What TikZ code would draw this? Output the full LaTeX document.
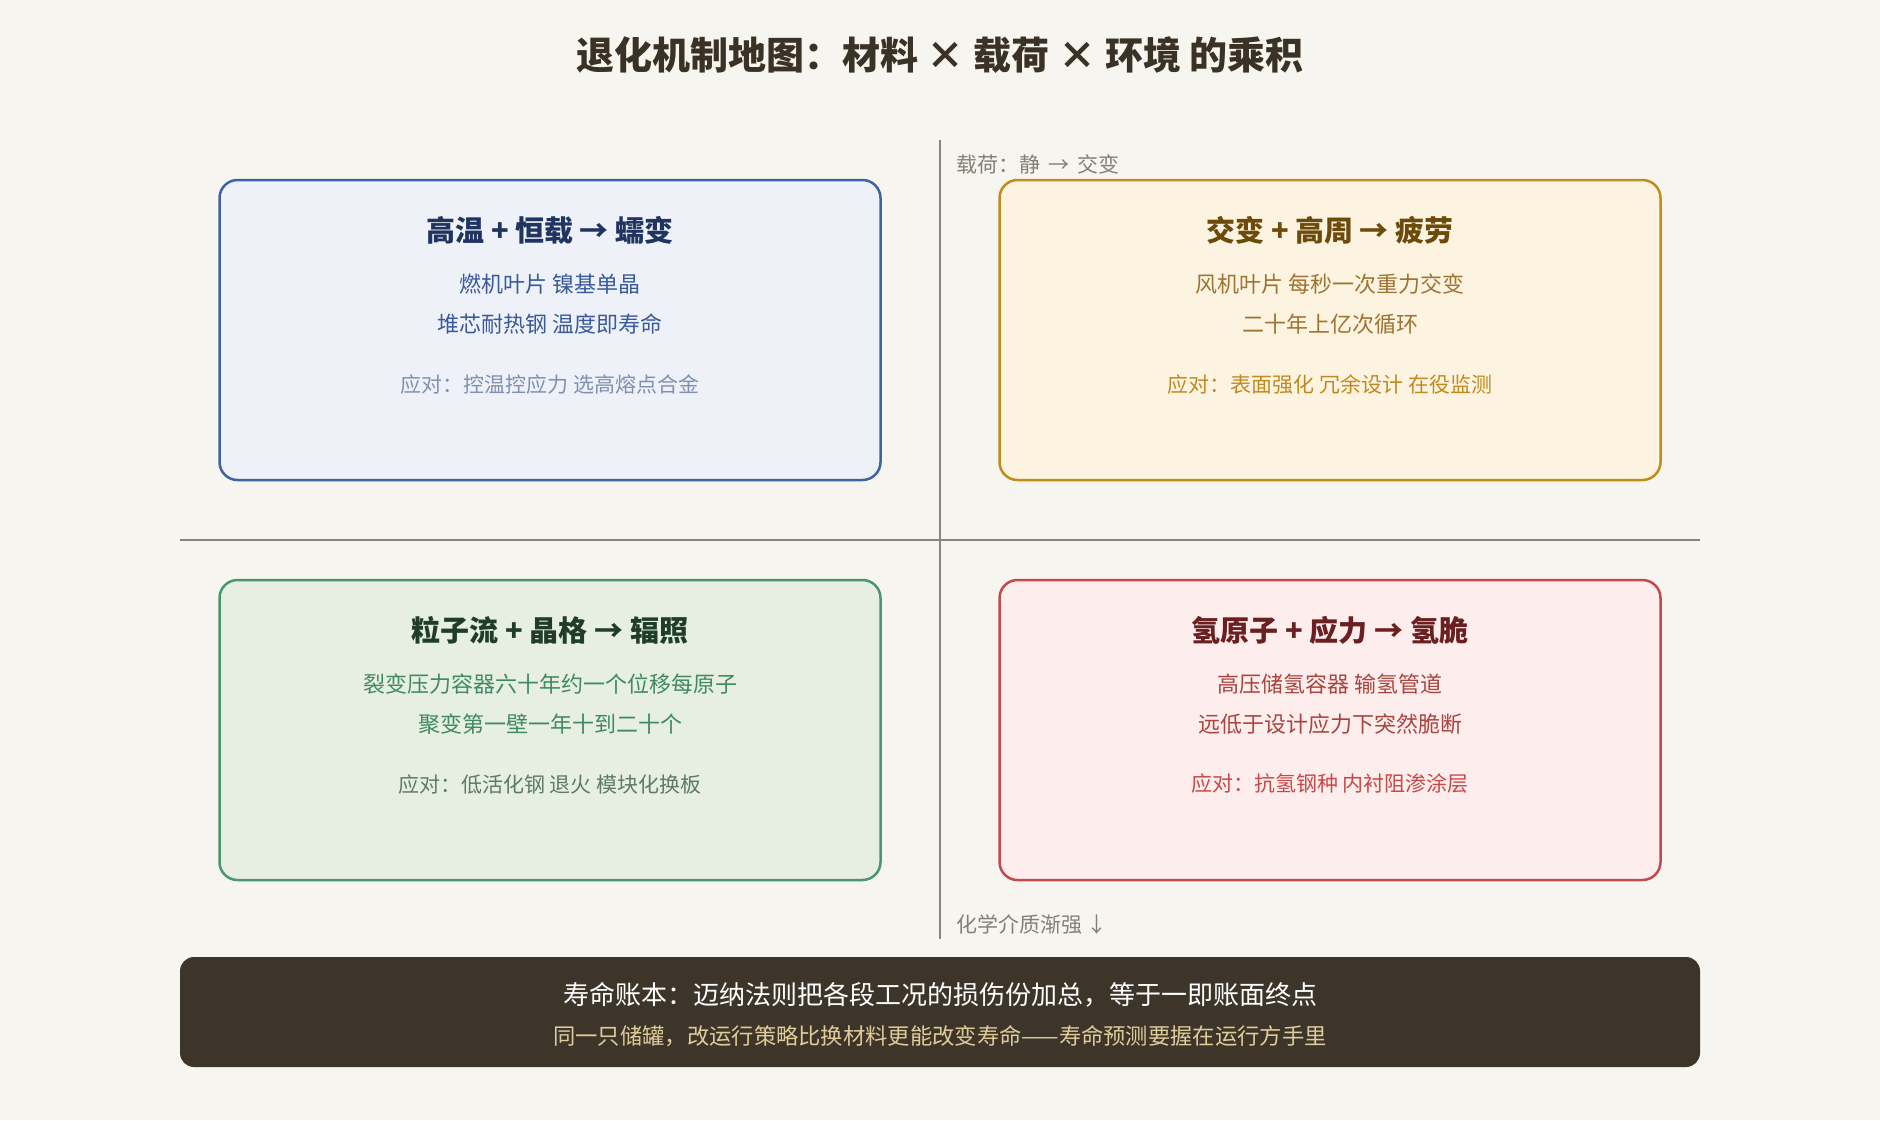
\documentclass[tikz,border=0pt]{standalone}
\usepackage{fontspec}
\setmainfont{Noto Sans CJK SC}
\usepackage{tikz}
\usetikzlibrary{positioning}

\begin{document}
\begin{tikzpicture}[x=1pt, y=-1pt,
    inner sep=0pt, outer sep=0pt,%
    axis/.style={line width=2.5pt, color=axisgray},
    axislabel/.style={anchor=west, text=labelgray, font=\fontsize{21}{25}\selectfont},
    quad/.style={draw=#1border, fill=#1fill, line width=2.5pt, rounded corners=18pt,
        minimum width=661pt, minimum height=300pt},
    quadtitle/.style={text=#1title, font=\fontsize{29}{34}\selectfont\bfseries},
    quadbody/.style={text=#1body, font=\fontsize{22}{26}\selectfont},
    quadcounter/.style={text=#1counter, font=\fontsize{21}{25}\selectfont},
]
    % Colors
    \definecolor{paper}{HTML}{F7F5F0}
    \definecolor{axisgray}{HTML}{8A857A}
    \definecolor{labelgray}{HTML}{858075}
    \definecolor{headcolor}{HTML}{3B3226}
    \definecolor{blueborder}{HTML}{3F62A3}
    \definecolor{bluefill}{HTML}{EEF2F8}
    \definecolor{bluetitle}{HTML}{1F3560}
    \definecolor{bluebody}{HTML}{3A5A99}
    \definecolor{bluecounter}{HTML}{8090B0}
    \definecolor{goldborder}{HTML}{C08C1A}
    \definecolor{goldfill}{HTML}{FDF3E1}
    \definecolor{goldtitle}{HTML}{6B4A0A}
    \definecolor{goldbody}{HTML}{9E7430}
    \definecolor{goldcounter}{HTML}{C08A20}
    \definecolor{greenborder}{HTML}{4A9670}
    \definecolor{greenfill}{HTML}{E7EFE3}
    \definecolor{greentitle}{HTML}{1F3D2A}
    \definecolor{greenbody}{HTML}{3F8A60}
    \definecolor{greencounter}{HTML}{5E7A68}
    \definecolor{redborder}{HTML}{C4494D}
    \definecolor{redfill}{HTML}{FDEEED}
    \definecolor{redtitle}{HTML}{6A2020}
    \definecolor{redbody}{HTML}{A8453F}
    \definecolor{redcounter}{HTML}{C84848}
    \definecolor{ledgerfill}{HTML}{3D3529}
    \definecolor{ledgersub}{HTML}{E0CC9A}

    % Page
    \fill[paper] (0,0) rectangle (1880,1120);
    \useasboundingbox (0,0) rectangle (1880,1120);

    \node[text=headcolor, font=\fontsize{38}{46}\selectfont\bfseries] (title) at (940,55)
        {退化机制地图：材料 × 载荷 × 环境 的乘积};

    % Axes
    \coordinate (load-top) at (940,140);
    \coordinate (load-bot) at (940,939);
    \coordinate (env-left) at (180,540);
    \coordinate (env-right) at (1700,540);
    \draw[axis] (load-top) -- (load-bot);
    \draw[axis] (env-left) -- (env-right);
    \node[axislabel] (load-label) at (956,164) {载荷：静 \,→\, 交变};
    \node[axislabel] (chem-label) at (956,924) {化学介质渐强 ↓};

    % Creep
    \node[quad=blue] (creep) at (550,330) {};
    \node[quadtitle=blue] (creep-title) at ([yshift=-50pt]creep.north) {高温 + 恒载 → 蠕变};
    \node[quadbody=blue] (creep-a) at ([yshift=-104pt]creep.north) {燃机叶片 镍基单晶};
    \node[quadbody=blue] (creep-b) at ([yshift=-144pt]creep.north) {堆芯耐热钢 温度即寿命};
    \node[quadcounter=blue] (creep-fix) at ([yshift=-204pt]creep.north) {应对：控温控应力 选高熔点合金};

    % Fatigue
    \node[quad=gold] (fatigue) at (1330,330) {};
    \node[quadtitle=gold] (fatigue-title) at ([yshift=-50pt]fatigue.north) {交变 + 高周 → 疲劳};
    \node[quadbody=gold] (fatigue-a) at ([yshift=-104pt]fatigue.north) {风机叶片 每秒一次重力交变};
    \node[quadbody=gold] (fatigue-b) at ([yshift=-144pt]fatigue.north) {二十年上亿次循环};
    \node[quadcounter=gold] (fatigue-fix) at ([yshift=-204pt]fatigue.north) {应对：表面强化 冗余设计 在役监测};

    % Irradiation
    \node[quad=green] (irrad) at (550,730) {};
    \node[quadtitle=green] (irrad-title) at ([yshift=-50pt]irrad.north) {粒子流 + 晶格 → 辐照};
    \node[quadbody=green] (irrad-a) at ([yshift=-104pt]irrad.north) {裂变压力容器六十年约一个位移每原子};
    \node[quadbody=green] (irrad-b) at ([yshift=-144pt]irrad.north) {聚变第一壁一年十到二十个};
    \node[quadcounter=green] (irrad-fix) at ([yshift=-204pt]irrad.north) {应对：低活化钢 退火 模块化换板};

    % Hydrogen embrittlement
    \node[quad=red] (hydro) at (1330,730) {};
    \node[quadtitle=red] (hydro-title) at ([yshift=-50pt]hydro.north) {氢原子 + 应力 → 氢脆};
    \node[quadbody=red] (hydro-a) at ([yshift=-104pt]hydro.north) {高压储氢容器 输氢管道};
    \node[quadbody=red] (hydro-b) at ([yshift=-144pt]hydro.north) {远低于设计应力下突然脆断};
    \node[quadcounter=red] (hydro-fix) at ([yshift=-204pt]hydro.north) {应对：抗氢钢种 内衬阻渗涂层};

    % Ledger
    \node[fill=ledgerfill, rounded corners=14pt, minimum width=1520pt, minimum height=110pt] (ledger) at (940,1012) {};
    \node[text=white, font=\fontsize{26}{30}\selectfont] (ledger-main) at ([yshift=17pt]ledger.center)
        {寿命账本：迈纳法则把各段工况的损伤份加总，等于一即账面终点};
    \node[text=ledgersub, font=\fontsize{22.3}{26}\selectfont] (ledger-sub) at ([yshift=-24pt]ledger.center)
        {同一只储罐，改运行策略比换材料更能改变寿命——寿命预测要握在运行方手里};

\end{tikzpicture}
\end{document}
